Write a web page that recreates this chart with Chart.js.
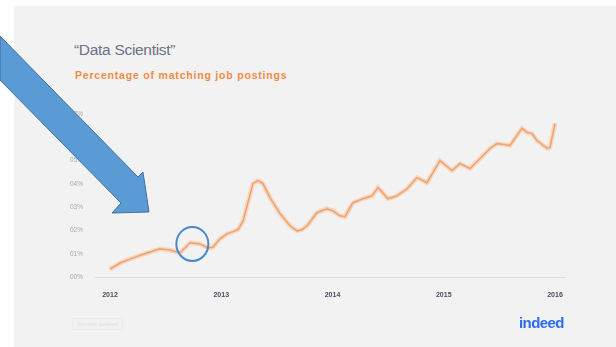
<!DOCTYPE html>
<html>
<head>
<meta charset="utf-8">
<script src="https://cdn.jsdelivr.net/npm/chart.js@4.4.0/dist/chart.umd.min.js"></script>
<style>
  html, body { margin: 0; padding: 0; background: #ffffff; }
  #wrap { position: relative; width: 616px; height: 347px; overflow: hidden; font-family: "Liberation Sans", Arial, sans-serif; }
  #slide { position: absolute; left: 14px; top: 6px; width: 602px; height: 341px; background: #f2f2f2; }
  #grafico { position: absolute; left: 0; top: 0; }
  .titulo { position: absolute; left: 74px; top: 41px; font-size: 15.5px; color: #6c7386; letter-spacing: -0.3px; }
  .subtitulo { position: absolute; left: 75px; top: 69px; font-size: 10.5px; font-weight: bold; color: #f28b43; letter-spacing: 0.8px; }
  .fuente { position: absolute; left: 72px; top: 318px; font-size: 6px; color: #dcdcdc; border: 1px solid #ececec; padding: 2px 4px; }
  .logo { position: absolute; left: 519px; top: 314px; font-size: 15px; font-weight: bold; color: #2b6bf0; letter-spacing: -0.6px; }
  #flecha { position: absolute; left: 0; top: 0; }
</style>
</head>
<body>
<div id="wrap">
  <div id="slide"></div>
  <div class="titulo">“Data Scientist”</div>
  <div class="subtitulo">Percentage of matching job postings</div>
  <canvas id="grafico" width="616" height="347"></canvas>
  <div class="fuente">Source: Indeed</div>
  <div class="logo">indeed</div>
  <svg id="flecha" width="616" height="347">
    <polygon points="0,36 138,177 143,172 149,212 112,213 121,203 0,80" fill="#5b9bd5" stroke="#41719c" stroke-width="1"/>
  </svg>
</div>

<script>
// fechas (año decimal) y porcentaje de ofertas
const anios = [
  2012.000, 2012.090, 2012.207, 2012.333, 2012.449, 2012.539, 2012.629, 2012.719,
  2012.809, 2012.881, 2012.926, 2012.989, 2013.052, 2013.151, 2013.196, 2013.285,
  2013.330, 2013.375, 2013.438, 2013.528, 2013.618, 2013.681, 2013.726, 2013.771,
  2013.861, 2013.951, 2014.004, 2014.067, 2014.112, 2014.184, 2014.274, 2014.355,
  2014.409, 2014.499, 2014.580, 2014.670, 2014.760, 2014.849, 2014.903, 2014.966,
  2015.074, 2015.146, 2015.236, 2015.326, 2015.416, 2015.479, 2015.596, 2015.658,
  2015.703, 2015.748, 2015.793, 2015.838, 2015.928, 2015.955, 2016.000
];
const porcentajes = [
  0.0034, 0.0060, 0.0082, 0.0103, 0.0121, 0.0116, 0.0103, 0.0147,
  0.0142, 0.0125, 0.0129, 0.0164, 0.0185, 0.0203, 0.0241, 0.0401,
  0.0414, 0.0401, 0.0341, 0.0272, 0.0220, 0.0198, 0.0203, 0.0220,
  0.0276, 0.0293, 0.0284, 0.0263, 0.0259, 0.0319, 0.0336, 0.0349,
  0.0384, 0.0336, 0.0349, 0.0379, 0.0427, 0.0405, 0.0448, 0.0500,
  0.0457, 0.0487, 0.0466, 0.0509, 0.0552, 0.0573, 0.0565, 0.0608,
  0.0638, 0.0621, 0.0616, 0.0586, 0.0552, 0.0556, 0.0659
];
const ticksAnio = [2012, 2013, 2014, 2015, 2016];
// punto marcado con el círculo azul
const marcaAnio = 2012.74;
const marcaValor = 0.0142;

const puntos = anios.map((a, i) => ({ x: a, y: porcentajes[i] }));

// círculo azul alrededor del punto marcado
const circuloPlugin = {
  id: 'circulo',
  afterDatasetsDraw(chart) {
    const ctx = chart.ctx;
    const cx = chart.scales.x.getPixelForValue(marcaAnio);
    const cy = chart.scales.y.getPixelForValue(marcaValor);
    ctx.save();
    ctx.beginPath();
    ctx.ellipse(cx, cy, 16, 17, 0, 0, Math.PI * 2);
    ctx.strokeStyle = '#4a88cc';
    ctx.lineWidth = 2;
    ctx.stroke();
    ctx.restore();
  }
};

const ctx = document.getElementById('grafico').getContext('2d');
new Chart(ctx, {
  type: 'line',
  data: {
    datasets: [
      {
        data: puntos,
        borderColor: 'rgba(250, 185, 140, 0.5)',
        borderWidth: 4.5,
        pointRadius: 0,
        tension: 0
      },
      {
        data: puntos,
        borderColor: '#e9894e',
        borderWidth: 1.5,
        pointRadius: 0,
        tension: 0
      }
    ]
  },
  options: {
    responsive: false,
    animation: false,
    layout: { padding: { left: 70, right: 51, top: 114, bottom: 45 } },
    plugins: {
      legend: { display: false },
      tooltip: { enabled: false }
    },
    scales: {
      x: {
        type: 'linear',
        min: 2011.865,
        max: 2016.09,
        afterBuildTicks: (axis) => { axis.ticks = ticksAnio.map(v => ({ value: v })); },
        afterFit: (axis) => { axis.height = 25; },
        grid: { display: false },
        border: { display: true, color: '#dedede', width: 1 },
        ticks: {
          padding: 6,
          maxRotation: 0,
          color: '#4a5060',
          font: { family: 'Liberation Sans', size: 7, weight: 'bold' },
          callback: (v) => String(v)
        }
      },
      y: {
        min: 0,
        max: 0.07,
        afterFit: (axis) => { axis.width = 25; },
        grid: { display: false },
        border: { display: false },
        ticks: {
          stepSize: 0.01,
          padding: 4,
          color: '#aaaaaa',
          font: { family: 'Liberation Sans', size: 6.5 },
          callback: (v) => v.toFixed(2) + '%'
        }
      }
    }
  },
  plugins: [circuloPlugin]
});
</script>
</body>
</html>
